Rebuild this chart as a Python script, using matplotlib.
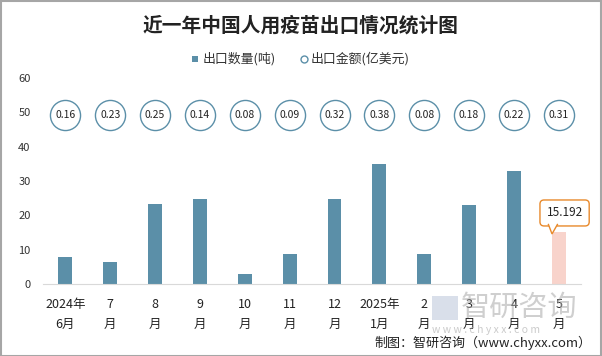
import matplotlib
matplotlib.use("Agg")
import matplotlib.pyplot as plt
from matplotlib.patches import Rectangle, Polygon

plt.rcParams['font.family'] = ['Noto Sans CJK SC', 'DejaVu Sans']

categories = ["2024年\n6月", "7\n月", "8\n月", "9\n月", "10\n月", "11\n月", "12\n月",
              "2025年\n1月", "2\n月", "3\n月", "4\n月", "5\n月"]
quantity = [7.9, 6.4, 23.3, 24.8, 2.9, 8.8, 24.8, 35.0, 8.8, 23.0, 33.0, 15.192]
amount = [0.16, 0.23, 0.25, 0.14, 0.08, 0.09, 0.32, 0.38, 0.08, 0.18, 0.22, 0.31]
yticks = [0, 10, 20, 30, 40, 50, 60]

bar_color = "#5b8fa8"
last_color = "#f8d3cb"
orange = "#e8892b"

fig = plt.figure(figsize=(6.02, 3.56), dpi=100)
ax = fig.add_axes([0.0714, 0.202, 0.894, 0.579])

x = list(range(len(categories)))
colors = [bar_color] * (len(x) - 1) + [last_color]
ax.bar(x, quantity, width=0.31, color=colors, zorder=2)

circle_y = [49.3] * len(x)
ax.scatter(x, circle_y, s=470, facecolor="white", edgecolor=bar_color, linewidth=1.0, zorder=3)
for xi, v in zip(x, amount):
    ax.text(xi, 49.3, f"{v:.2f}", ha="center", va="center", fontsize=7.5, color="#222222", zorder=4)

ax.set_xlim(-0.5, len(x) - 0.5)
ax.set_ylim(0, 60)
ax.set_yticks(yticks)
ax.set_xticks(x)
ax.set_xticklabels(categories, fontsize=9, linespacing=1.65, color="#222222")
ax.tick_params(axis="y", length=0, labelsize=8, labelcolor="#333333", pad=9)
ax.tick_params(axis="x", length=0, pad=10)
for s in ["top", "right", "left"]:
    ax.spines[s].set_visible(False)
ax.spines["bottom"].set_color("#d9d9d9")

# callout for last bar
last = len(x) - 1
ax.text(last + 0.13, 20.7, f"{quantity[-1]:.3f}", ha="center", va="center", fontsize=8.5,
        color="#222222", zorder=5,
        bbox=dict(boxstyle="round,pad=0.55,rounding_size=0.35", fc="white", ec=orange, lw=1))
tip = (last - 0.15, quantity[-1] - 0.6)
base_l = (last - 0.23, 17.35)
base_r = (last - 0.03, 17.35)
ax.add_patch(Polygon([base_l, tip, base_r], closed=True, facecolor="white", edgecolor="none", zorder=6))
ax.plot([base_l[0], tip[0], base_r[0]], [base_l[1], tip[1], base_r[1]], color=orange, lw=1, zorder=7,
        solid_joinstyle="miter")

fig.text(0.5, 0.927, "近一年中国人用疫苗出口情况统计图", ha="center", va="center",
         fontsize=14.2, fontweight="bold", color="#222222")

# legend
fig.patches.append(Rectangle((0.319, 0.825), 0.0105, 0.0185, transform=fig.transFigure,
                             facecolor=bar_color, edgecolor="none"))
fig.text(0.336, 0.834, "出口数量(吨)", ha="left", va="center", fontsize=9.3, color="#333333")
fig.lines.append(plt.Line2D([0.5055], [0.834], transform=fig.transFigure, marker="o",
                            markersize=5, markerfacecolor="white", markeredgecolor=bar_color,
                            markeredgewidth=1, linestyle="none"))
fig.text(0.516, 0.834, "出口金额(亿美元)", ha="left", va="center", fontsize=9.3, color="#333333")

# watermark
fig.patches.append(Rectangle((0.718, 0.10), 0.042, 0.068, transform=fig.transFigure,
                             facecolor="#c9d2e2", edgecolor="none", alpha=0.7, zorder=0))
fig.text(0.765, 0.135, "智研咨询", ha="left", va="center", fontsize=21, color="#a8a8a8",
         alpha=0.55, zorder=0)
fig.text(0.718, 0.073, "w w w . c h y x x . c o m", ha="left", va="center", fontsize=7.5,
         color="#b5b5b5", alpha=0.7, zorder=0)

fig.text(0.982, 0.036, "制图：智研咨询（www.chyxx.com）", ha="right", va="center",
         fontsize=9.4, color="#222222")

# outer border
fig.patches.append(Rectangle((0.001, 0.001), 0.997, 0.997, transform=fig.transFigure,
                             facecolor="none", edgecolor="#a6a6a6", linewidth=1.5))

fig.savefig("out.png", dpi=100)
